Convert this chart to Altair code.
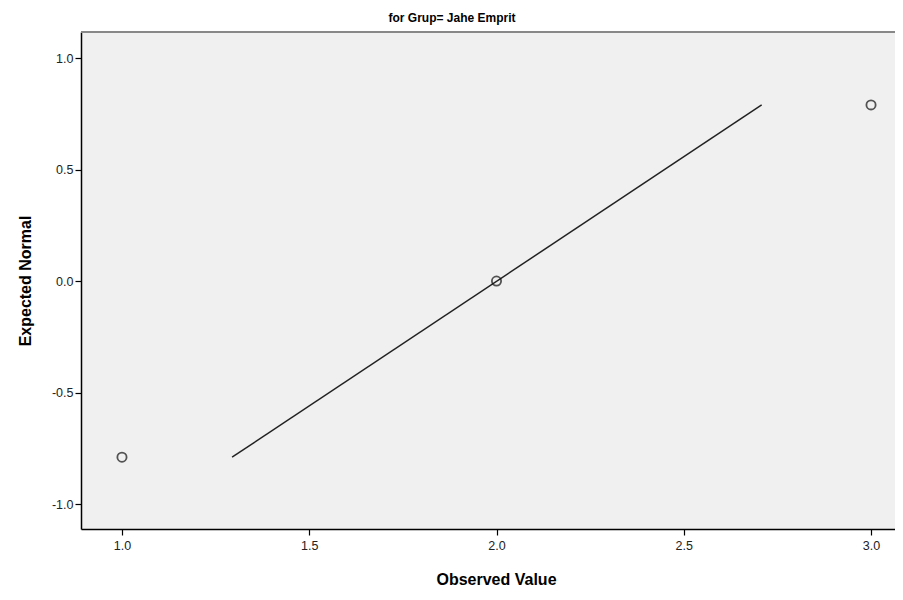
import altair as alt
import pandas as pd

observed = [1.0, 2.0, 3.0]
expected = [-0.79, 0.0, 0.79]
line_x = [1.294, 2.708]
line_y = [-0.79, 0.79]

x_ticks = [1.0, 1.5, 2.0, 2.5, 3.0]
y_ticks = [-1.0, -0.5, 0.0, 0.5, 1.0]

W, H = 814, 497
FONT = "Liberation Sans"

pts = pd.DataFrame({"obs": observed, "exp": expected})
ln = pd.DataFrame({"obs": line_x, "exp": line_y})

xscale = alt.Scale(domain=[0.8906, 3.064], nice=False, zero=False)
yscale = alt.Scale(domain=[-1.112, 1.117], nice=False, zero=False)

lbl = "replace(format(datum.value, '.1f'), '\u2212', '-')"

xaxis = alt.Axis(values=x_ticks, labelExpr=lbl, title="Observed Value", grid=False,
                 domainColor="#000", domainWidth=1.5, tickColor="#000", tickSize=6,
                 tickWidth=1.2, labelFont=FONT, labelFontSize=12.5, labelColor="#222",
                 labelPadding=4, titleFont=FONT, titleFontSize=16, titleFontWeight="bold",
                 titleColor="#000", titlePadding=20, titleX=415)
yaxis = alt.Axis(values=y_ticks, labelExpr=lbl, title="Expected Normal", grid=False,
                 domainColor="#000", domainWidth=1.5, tickColor="#000", tickSize=6,
                 tickWidth=1.2, labelFont=FONT, labelFontSize=12.5, labelColor="#222",
                 labelPadding=2, titleFont=FONT, titleFontSize=16, titleFontWeight="bold",
                 titleColor="#000", titlePadding=18)

line = alt.Chart(ln).mark_line(color="#222", strokeWidth=1.5).encode(
    x=alt.X("obs:Q", scale=xscale, axis=xaxis),
    y=alt.Y("exp:Q", scale=yscale, axis=yaxis),
)
points = alt.Chart(pts).mark_point(shape="circle", filled=False, color="#111",
                                    strokeWidth=1.8, size=85).encode(
    x=alt.X("obs:Q", scale=xscale),
    y=alt.Y("exp:Q", scale=yscale),
)
top = alt.Chart(pts).mark_rule(color="#888", strokeWidth=2).encode(
    x=alt.value(0), x2=alt.value(W), y=alt.value(0)
)

chart = alt.layer(top, line, points).properties(
    width=W, height=H,
    autosize=alt.AutoSizeParams(type="none"),
    padding={"left": 73, "top": 24, "right": 0, "bottom": 60},
    title=alt.TitleParams("for Grup= Jahe Emprit", font=FONT, fontSize=12,
                          fontWeight="bold", color="#000", dx=-36, offset=6),
).configure_view(fill="#F0F0F0", stroke=None)

chart.save("out.html", embed_options={"renderer": "svg", "actions": False})
